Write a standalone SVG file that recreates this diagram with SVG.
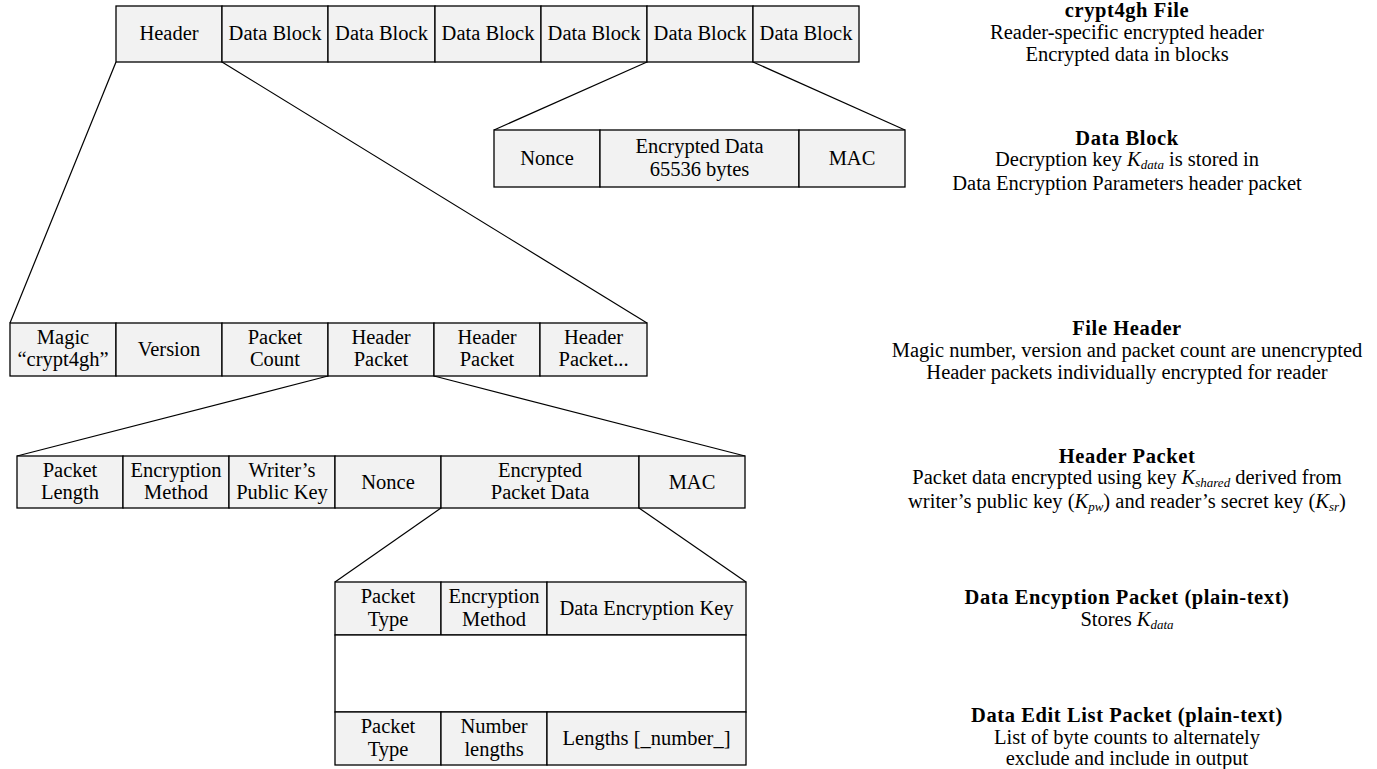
<svg xmlns="http://www.w3.org/2000/svg" width="1377" height="769" viewBox="0 0 1377 769">
<style>
.c{fill:#f2f2f2;stroke:#000;stroke-width:1.3}
.w{fill:#fff;stroke:#000;stroke-width:1.3}
.t{font-family:"Liberation Serif","Times New Roman",serif;font-size:20.5px;fill:#000;text-anchor:middle}
.b{font-weight:bold;letter-spacing:0.6px}
.i{font-style:italic}
.s{font-style:italic;font-size:13px}
#connectors line{stroke:#000;stroke-width:1.2}
</style>
<rect width="1377" height="769" fill="#fff"/>
<g id="connectors">
<line x1="116" y1="62" x2="10" y2="323"/>
<line x1="222" y1="62" x2="647" y2="323"/>
<line x1="647" y1="62" x2="494" y2="130"/>
<line x1="753" y1="62" x2="905" y2="130"/>
<line x1="328" y1="376" x2="17" y2="456"/>
<line x1="434" y1="376" x2="745" y2="456"/>
<line x1="441" y1="508" x2="335" y2="582"/>
<line x1="639" y1="508" x2="746" y2="582"/>
</g>
<g id="file">
<rect class="c" x="116" y="6" width="106" height="56"/><text class="t" x="169" y="40">Header</text>
<rect class="c" x="222" y="6" width="106" height="56"/><text class="t" x="275" y="40">Data Block</text>
<rect class="c" x="328" y="6" width="107" height="56"/><text class="t" x="381.5" y="40">Data Block</text>
<rect class="c" x="435" y="6" width="106" height="56"/><text class="t" x="488" y="40">Data Block</text>
<rect class="c" x="541" y="6" width="106" height="56"/><text class="t" x="594" y="40">Data Block</text>
<rect class="c" x="647" y="6" width="106" height="56"/><text class="t" x="700" y="40">Data Block</text>
<rect class="c" x="753" y="6" width="106" height="56"/><text class="t" x="806" y="40">Data Block</text>
</g>
<g id="datablock">
<rect class="c" x="494" y="130" width="106" height="57"/><text class="t" x="547" y="165">Nonce</text>
<rect class="c" x="600" y="130" width="199" height="57"/><text class="t" x="699.5" y="153">Encrypted Data</text><text class="t" x="699.5" y="176">65536 bytes</text>
<rect class="c" x="799" y="130" width="106" height="57"/><text class="t" x="852" y="165">MAC</text>
</g>
<g id="fileheader">
<rect class="c" x="10" y="323" width="106" height="53"/><text class="t" x="63" y="344">Magic</text><text class="t" x="63" y="366">“crypt4gh”</text>
<rect class="c" x="116" y="323" width="106" height="53"/><text class="t" x="169" y="356">Version</text>
<rect class="c" x="222" y="323" width="106" height="53"/><text class="t" x="275" y="344">Packet</text><text class="t" x="275" y="366">Count</text>
<rect class="c" x="328" y="323" width="106" height="53"/><text class="t" x="381" y="344">Header</text><text class="t" x="381" y="366">Packet</text>
<rect class="c" x="434" y="323" width="106" height="53"/><text class="t" x="487" y="344">Header</text><text class="t" x="487" y="366">Packet</text>
<rect class="c" x="540" y="323" width="107" height="53"/><text class="t" x="593.5" y="344">Header</text><text class="t" x="593.5" y="366">Packet...</text>
</g>
<g id="headerpacket">
<rect class="c" x="17" y="456" width="106" height="52"/><text class="t" x="70" y="477">Packet</text><text class="t" x="70" y="499">Length</text>
<rect class="c" x="123" y="456" width="106" height="52"/><text class="t" x="176" y="477">Encryption</text><text class="t" x="176" y="499">Method</text>
<rect class="c" x="229" y="456" width="106" height="52"/><text class="t" x="282" y="477">Writer’s</text><text class="t" x="282" y="499">Public Key</text>
<rect class="c" x="335" y="456" width="106" height="52"/><text class="t" x="388" y="489">Nonce</text>
<rect class="c" x="441" y="456" width="198" height="52"/><text class="t" x="540" y="477">Encrypted</text><text class="t" x="540" y="499">Packet Data</text>
<rect class="c" x="639" y="456" width="106" height="52"/><text class="t" x="692" y="489">MAC</text>
</g>
<g id="dataencpacket">
<rect class="c" x="335" y="582" width="106" height="53"/><text class="t" x="388" y="603">Packet</text><text class="t" x="388" y="626">Type</text>
<rect class="c" x="441" y="582" width="106" height="53"/><text class="t" x="494" y="603">Encryption</text><text class="t" x="494" y="626">Method</text>
<rect class="c" x="547" y="582" width="199" height="53"/><text class="t" x="646.5" y="615">Data Encryption Key</text>
</g>
<g id="gap"><rect class="w" x="335" y="635" width="411" height="77"/></g>
<g id="editlist">
<rect class="c" x="335" y="712" width="106" height="53"/><text class="t" x="388" y="733">Packet</text><text class="t" x="388" y="756">Type</text>
<rect class="c" x="441" y="712" width="106" height="53"/><text class="t" x="494" y="733">Number</text><text class="t" x="494" y="756">lengths</text>
<rect class="c" x="547" y="712" width="199" height="53"/><text class="t" x="646.5" y="745">Lengths [_number_]</text>
</g>
<g id="notes">
<text class="t b" x="1127" y="17">crypt4gh File</text>
<text class="t" x="1127" y="39">Reader-specific encrypted header</text>
<text class="t" x="1127" y="61">Encrypted data in blocks</text>
<text class="t b" x="1127" y="145">Data Block</text>
<text class="t" x="1127" y="166">Decryption key <tspan class="i">K</tspan><tspan class="s" dy="3">data</tspan><tspan dy="-3"> is stored in</tspan></text>
<text class="t" x="1127" y="190">Data Encryption Parameters header packet</text>
<text class="t b" x="1127" y="335">File Header</text>
<text class="t" x="1127" y="357">Magic number, version and packet count are unencrypted</text>
<text class="t" x="1127" y="379">Header packets individually encrypted for reader</text>
<text class="t b" x="1127" y="463">Header Packet</text>
<text class="t" x="1127" y="484">Packet data encrypted using key <tspan class="i">K</tspan><tspan class="s" dy="3">shared</tspan><tspan dy="-3"> derived from</tspan></text>
<text class="t" x="1127" y="508">writer’s public key (<tspan class="i">K</tspan><tspan class="s" dy="3">pw</tspan><tspan dy="-3">) and reader’s secret key (</tspan><tspan class="i">K</tspan><tspan class="s" dy="3">sr</tspan><tspan dy="-3">)</tspan></text>
<text class="t b" x="1127" y="604">Data Encyption Packet (plain-text)</text>
<text class="t" x="1127" y="626">Stores <tspan class="i">K</tspan><tspan class="s" dy="3">data</tspan></text>
<text class="t b" x="1127" y="722">Data Edit List Packet (plain-text)</text>
<text class="t" x="1127" y="744">List of byte counts to alternately</text>
<text class="t" x="1127" y="765">exclude and include in output</text>
</g>
</svg>
